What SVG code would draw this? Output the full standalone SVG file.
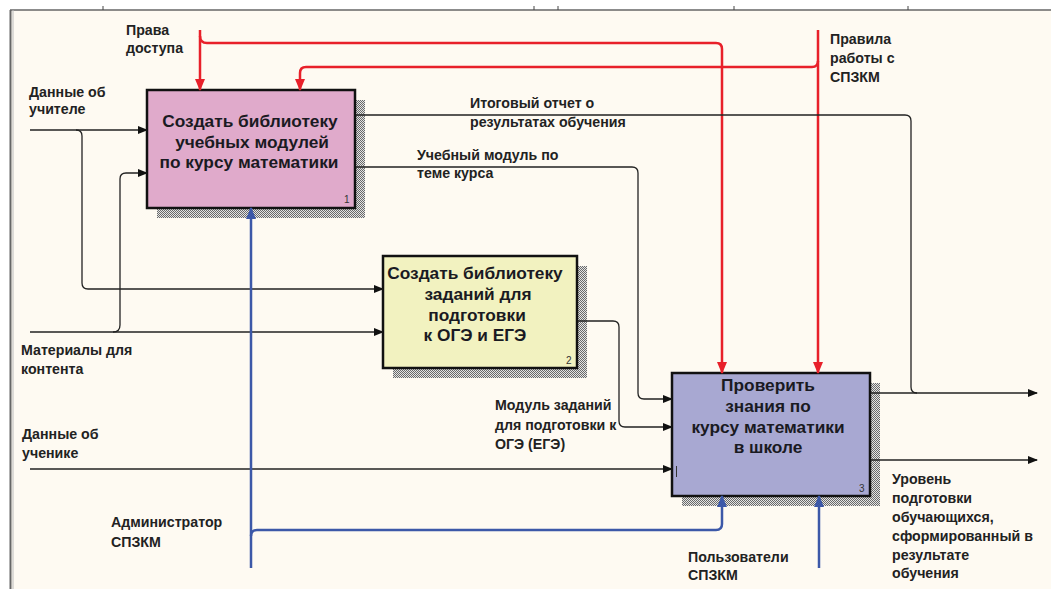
<svg xmlns="http://www.w3.org/2000/svg" width="1051" height="589" viewBox="0 0 1051 589">
<defs>
<pattern id="hatch" width="2" height="2" patternUnits="userSpaceOnUse">
<rect width="2" height="2" fill="#e4e4e4"/>
<rect x="0" y="0" width="1" height="1" fill="#6a6a6a"/>
<rect x="1" y="1" width="1" height="1" fill="#6a6a6a"/>
</pattern>
<marker id="ab" markerWidth="10" markerHeight="8" refX="9" refY="4" orient="auto" markerUnits="userSpaceOnUse"><path d="M0,0 L10,4 L0,8 Z" fill="#111"/></marker>
<marker id="ar" markerWidth="12" markerHeight="10" refX="11" refY="5" orient="auto" markerUnits="userSpaceOnUse"><path d="M0,0 L12,5 L0,10 Z" fill="#e8202a"/></marker>
<marker id="au" markerWidth="12" markerHeight="10" refX="11" refY="5" orient="auto" markerUnits="userSpaceOnUse"><path d="M0,0 L12,5 L0,10 Z" fill="#3c58a8"/></marker>
</defs>
<style>
.lbl{font-family:"Liberation Sans",Arial,sans-serif;font-size:14.2px;font-weight:bold;fill:#222}
.bt{font-family:"Liberation Sans",Arial,sans-serif;font-size:17.3px;font-weight:bold;fill:#1a1a22;text-anchor:middle}
.num{font-family:"Liberation Sans",Arial,sans-serif;font-size:10px;fill:#333}
.box{stroke:#111;stroke-width:2.5}
.k{fill:none;stroke:#222;stroke-width:1.3}
.r{fill:none;stroke:#e8202a;stroke-width:2.5}
.u{fill:none;stroke:#3c58a8;stroke-width:2.5}
</style>
<rect width="1051" height="589" fill="#ffffff"/>
<rect x="10" y="10" width="1041" height="579" fill="#fefaf2"/>
<line x1="10" y1="10" x2="1051" y2="10" stroke="#666" stroke-width="1.5"/>
<line x1="10.5" y1="10" x2="10.5" y2="589" stroke="#666" stroke-width="2"/>
<line x1="13" y1="10" x2="13" y2="589" stroke="#bbb" stroke-width="1"/>
<g stroke="#444" stroke-width="1">
<line x1="103" y1="6" x2="103" y2="10"/><line x1="534" y1="6" x2="534" y2="10"/><line x1="558" y1="6" x2="558" y2="10"/><line x1="734" y1="6" x2="734" y2="10"/><line x1="908" y1="6" x2="908" y2="10"/>
</g>
<g id="node1">
<rect x="157" y="100" width="208" height="118" fill="url(#hatch)"/>
<rect class="box" x="147" y="90" width="208" height="118" fill="#e0aacb"/>
<text class="bt" x="250" y="127">Создать библиотеку</text>
<text class="bt" x="252" y="148">учебных модулей</text>
<text class="bt" x="249" y="168">по курсу математики</text>
<text class="num" x="344" y="203">1</text>
</g>
<g id="node2">
<rect x="393" y="266" width="194" height="112" fill="url(#hatch)"/>
<rect class="box" x="383" y="256" width="194" height="112" fill="#f2f2c0"/>
<text class="bt" x="475" y="279">Создать библиотеку</text>
<text class="bt" x="478" y="300">заданий для</text>
<text class="bt" x="477" y="321">подготовки</text>
<text class="bt" x="475" y="341">к ОГЭ и ЕГЭ</text>
<text class="num" x="566" y="364">2</text>
</g>
<g id="node3">
<rect x="682" y="383" width="198" height="123" fill="url(#hatch)"/>
<rect class="box" x="672" y="373" width="198" height="123" fill="#a8a8d2"/>
<text class="bt" x="768" y="391">Проверить</text>
<text class="bt" x="768" y="412">знания по</text>
<text class="bt" x="768" y="433">курсу математики</text>
<text class="bt" x="768" y="453">в школе</text>
<line x1="676.5" y1="466" x2="676.5" y2="477" stroke="#333" stroke-width="1"/>
<text class="num" x="859" y="492">3</text>
</g>
<g id="connectors">
<path class="r" d="M200,30 V90" marker-end="url(#ar)"/>
<path class="r" d="M200,36 Q200,43 207,43 H716 Q722,43 722,49 V373" marker-end="url(#ar)"/>
<path class="r" d="M818,30 V373" marker-end="url(#ar)"/>
<path class="r" d="M818,61 Q818,67 812,67 H306 Q300,67 300,73 V90" marker-end="url(#ar)"/>
<path class="k" d="M30,130 H147" marker-end="url(#ab)"/>
<path class="k" d="M76,130 Q82,130 82,136 V283 Q82,289 88,289 H383" marker-end="url(#ab)"/>
<path class="k" d="M30,332 H383" marker-end="url(#ab)"/>
<path class="k" d="M113,332 Q120,332 120,325 V179 Q120,173 126,173 H147" marker-end="url(#ab)"/>
<path class="k" d="M30,469 H672" marker-end="url(#ab)"/>
<path class="k" d="M356,115 H905 Q911,115 911,121 V387 Q911,393 917,393"/>
<path class="k" d="M871,393 H1037" marker-end="url(#ab)"/>
<path class="k" d="M356,167 H632 Q638,167 638,173 V393 Q638,399 644,399 H672" marker-end="url(#ab)"/>
<path class="k" d="M578,321 H613 Q619,321 619,327 V421 Q619,427 625,427 H672" marker-end="url(#ab)"/>
<path class="k" d="M871,460 H1037" marker-end="url(#ab)"/>
<path class="u" d="M251,568 V208" marker-end="url(#au)"/>
<path class="u" d="M251,536 Q251,530 257,530 H716 Q722,530 722,524 V496" marker-end="url(#au)"/>
<path class="u" d="M819,568 V496" marker-end="url(#au)"/>
</g>
<g id="labels">
<text class="lbl" x="126" y="35">Права</text>
<text class="lbl" x="126" y="53">доступа</text>
<text class="lbl" x="29" y="97">Данные об</text>
<text class="lbl" x="29" y="114">учителе</text>
<text class="lbl" x="470" y="108">Итоговый отчет о</text>
<text class="lbl" x="470" y="127">результатах обучения</text>
<text class="lbl" x="417" y="160">Учебный модуль по</text>
<text class="lbl" x="417" y="178">теме курса</text>
<text class="lbl" x="830" y="44">Правила</text>
<text class="lbl" x="830" y="63">работы с</text>
<text class="lbl" x="830" y="82">СПЗКМ</text>
<text class="lbl" x="21" y="355">Материалы для</text>
<text class="lbl" x="21" y="374">контента</text>
<text class="lbl" x="495" y="410">Модуль заданий</text>
<text class="lbl" x="495" y="430">для подготовки к</text>
<text class="lbl" x="495" y="449">ОГЭ (ЕГЭ)</text>
<text class="lbl" x="22" y="439">Данные об</text>
<text class="lbl" x="22" y="458">ученике</text>
<text class="lbl" x="111" y="527">Администратор</text>
<text class="lbl" x="111" y="547">СПЗКМ</text>
<text class="lbl" x="688" y="562">Пользователи</text>
<text class="lbl" x="688" y="580">СПЗКМ</text>
<text class="lbl" x="892" y="484">Уровень</text>
<text class="lbl" x="892" y="503">подготовки</text>
<text class="lbl" x="892" y="522">обучающихся,</text>
<text class="lbl" x="892" y="541">сформированный в</text>
<text class="lbl" x="892" y="560">результате</text>
<text class="lbl" x="892" y="578">обучения</text>
</g>
</svg>
